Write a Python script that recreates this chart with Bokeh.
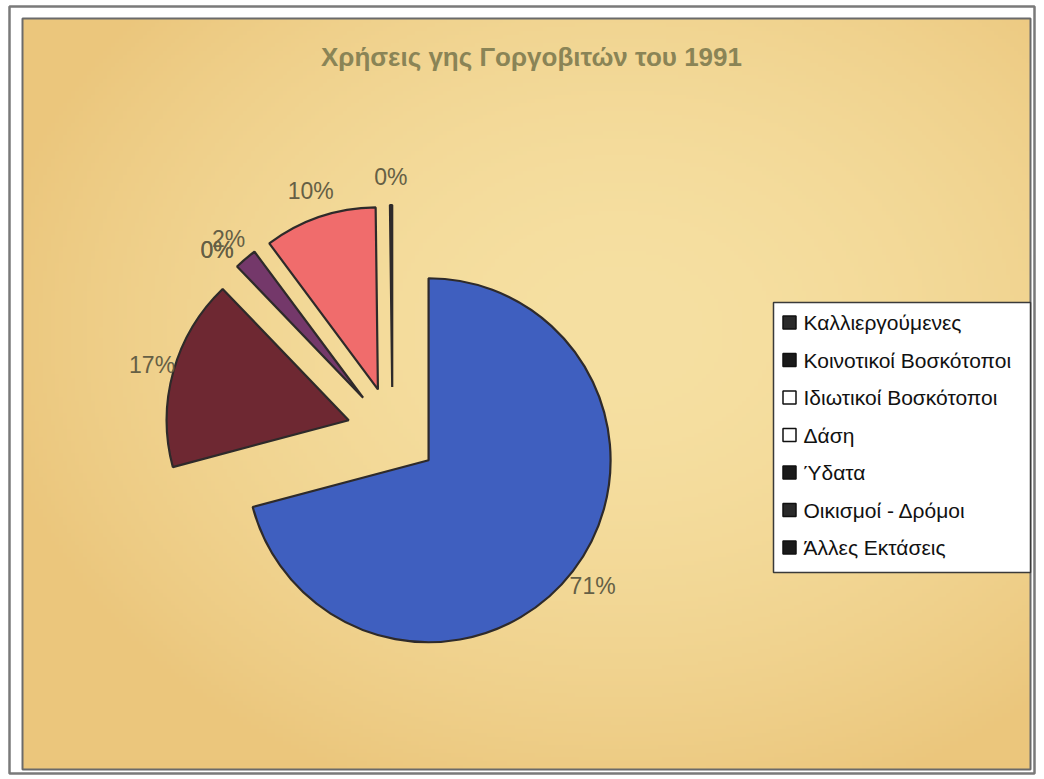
import math
import numpy as np
from bokeh.plotting import figure
from bokeh.models import Range1d
from bokeh.embed import file_html
from bokeh.resources import INLINE
from bokeh.core.properties import value

# ---------------- data ----------------
title_text = "Χρήσεις γης Γοργοβιτών του 1991"
categories = ["Καλλιεργούμενες", "Κοινοτικοί Βοσκότοποι", "Ιδιωτικοί Βοσκότοποι",
              "Δάση", "Ύδατα", "Οικισμοί - Δρόμοι", "Άλλες Εκτάσεις"]
values = [71.0, 17.0, 0.0, 0.0, 2.0, 10.0, 0.2]
slice_colors = ["#3f5fbf", "#6e2832", "#fffde0", "#e8f8f8", "#74386a", "#f06c6c", "#2a2a3a"]
legend_swatch = ["#2a2a2a", "#1a1a1a", "#ffffff", "#ffffff", "#1a1a1a", "#2a2a2a", "#1a1a1a"]

# ---------------- layout (screen pixel coords; data y = -screen y) ----------------
FW, FH = 1036, 776
p = figure(width=FW, height=FH, output_backend="svg", toolbar_location=None,
           x_range=Range1d(0, FW), y_range=Range1d(-FH, 0),
           min_border=0, border_fill_color="white", background_fill_color="white")
p.axis.visible = False
p.grid.visible = False
p.outline_line_color = None

# outer frame
p.quad(left=[9], right=[1034], top=[-6], bottom=[-773], fill_color=None,
       line_color="#7a7a7a", line_width=2.5)

# chart area with a soft parchment gradient
ax0, ax1, ay0, ay1 = 22, 1030, 18, 769
nx, ny = 252, 188
gx = np.linspace(ax0, ax1, nx)
gy = np.linspace(ay1, ay0, ny)  # row 0 = bottom
XX, YY = np.meshgrid(gx, gy)
t = np.sqrt(((XX - 620) / 640.0) ** 2 + ((YY - 330) / 500.0) ** 2)
t = np.clip(t, 0, 1) ** 1.8
light = np.array([246, 224, 162], dtype=float)
dark = np.array([235, 198, 124], dtype=float)
img = np.empty((ny, nx), dtype=np.uint32)
view = img.view(dtype=np.uint8).reshape((ny, nx, 4))
for k in range(3):
    view[:, :, k] = (light[k] + (dark[k] - light[k]) * t).astype(np.uint8)
view[:, :, 3] = 255
p.image_rgba(image=[img], x=ax0, y=-ay1, dw=ax1 - ax0, dh=ay1 - ay0)
p.quad(left=[ax0], right=[ax1], top=[-ay0], bottom=[-ay1], fill_color=None,
       line_color="#6a6a6a", line_width=2)

# title
p.text(x=[531], y=[-56], text=[title_text], text_font=value("Liberation Sans"),
       text_font_style="bold", text_font_size="26px", text_color="#8a8456",
       text_align="center", text_baseline="middle")

# ---------------- pie ----------------
CX, CY = 392.0, -432.0
R = 182.0
EXPLODE = 0.25 * R
total = sum(values)
cum = 0.0
wx, wy, ws, we, wc = [], [], [], [], []
lx, ly, lt = [], [], []
FS = 23
for v, col in zip(values, slice_colors):
    frac = v / total
    mid = math.pi / 2 - 2 * math.pi * (cum + frac / 2)
    sa = math.pi / 2 - 2 * math.pi * (cum + frac)
    ea = math.pi / 2 - 2 * math.pi * cum
    ox = CX + EXPLODE * math.cos(mid)
    oy = CY + EXPLODE * math.sin(mid)
    if v > 0:
        wx.append(ox); wy.append(oy); ws.append(sa); we.append(ea); wc.append(col)
    lab = f"{round(100 * frac)}%"
    L = R + 20 + 8 * abs(math.sin(mid))
    lx.append(ox + L * math.cos(mid)); ly.append(oy + L * math.sin(mid)); lt.append(lab)
    cum += frac

p.wedge(x=wx, y=wy, radius=R, radius_units="screen", start_angle=ws, end_angle=we,
        fill_color=wc, line_color="#2e2a2a", line_width=2.2)
p.text(x=lx, y=ly, text=lt, text_font=value("Liberation Sans"), text_font_size=f"{FS}px",
       text_color="#655f45", text_align="center", text_baseline="middle")

# ---------------- legend ----------------
LX0, LX1, LY0, LY1 = 773, 1030, 302, 572
p.quad(left=[LX0], right=[LX1], top=[-LY0], bottom=[-LY1], fill_color="white",
       line_color="#3a3a3a", line_width=1.5)
row0, step = 322, 37.5
ry = [-(row0 + i * step) for i in range(len(categories))]
p.rect(x=[789] * len(categories), y=ry, width=13, height=13, width_units="screen",
       height_units="screen", fill_color=legend_swatch, line_color="#111111", line_width=1.5)
p.text(x=[803] * len(categories), y=ry, text=categories, text_font=value("Liberation Sans"),
       text_font_size="21px", text_color="#111111", text_align="left", text_baseline="middle")

open("out.html", "w").write(file_html(p, INLINE))
